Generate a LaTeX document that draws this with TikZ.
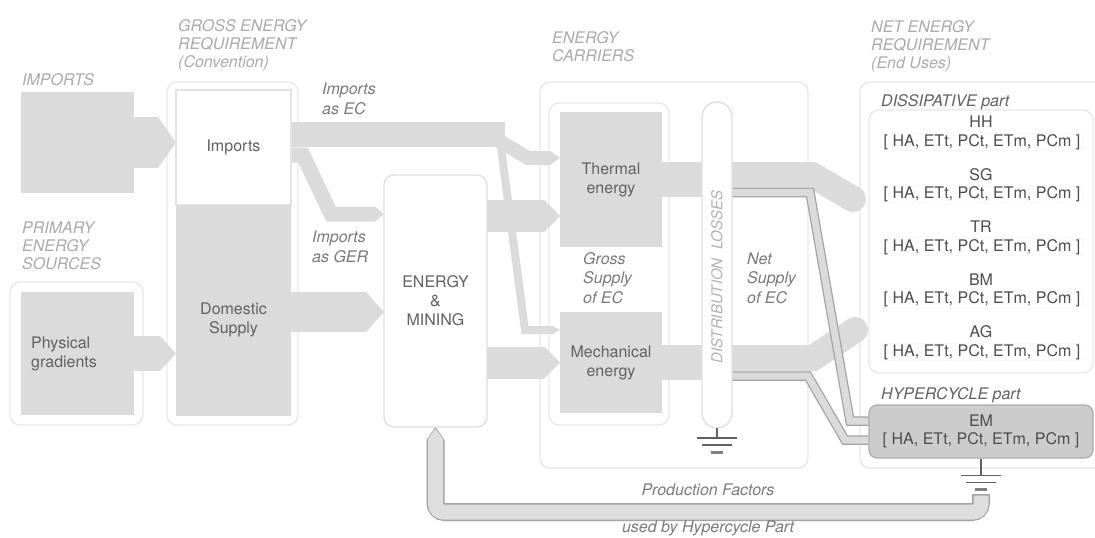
\documentclass[tikz,border=0pt]{standalone}
\usepackage{fontspec}
\setmainfont{TeX Gyre Heros}
\usetikzlibrary{arrows.meta}
\pgfdeclarelayer{back}
\pgfdeclarelayer{mid}
\pgfsetlayers{back,mid,main}
\begin{document}
\begin{tikzpicture}[x=1pt,y=-1pt,
 frame/.style={draw=black!9,line width=1.4pt,rounded corners=10pt,fill=white,inner sep=0pt,outer sep=0pt},
 greybox/.style={fill=black!14,inner sep=0pt,outer sep=0pt},
 boxtxt/.style={font=\fontsize{16}{19}\selectfont,text=black!62,align=center},
 head/.style={font=\fontsize{16}{18}\selectfont\itshape,text=black!33,align=left,anchor=west,inner sep=0pt},
 flowtxt/.style={font=\fontsize{16}{19.5}\selectfont\itshape,text=black!52,align=left,anchor=west,inner sep=0pt},
 parttxt/.style={font=\fontsize{16}{18}\selectfont\itshape,text=black!62,anchor=west,inner sep=0pt},
 enduse/.style={font=\fontsize{16}{18}\selectfont,text=black!70,inner sep=0pt},
 brack/.style={draw=black!22,densely dotted,rounded corners=4pt,minimum width=202pt,minimum height=17pt},
 band/.style={draw=black!14,line width=#1},
 tip/.style 2 args={-{Triangle[length=#1,width=#2,line width=0pt]}},
 thinband/.style={draw=black!14,line width=7pt,preaction={draw=black!36,line width=9.5pt}},
 earth/.style={draw=black!62,line width=1.6pt}]
\useasboundingbox (0,0) rectangle (1095,538);
\begin{pgfonlayer}{back}
 \fill[white] (0,0) rectangle (1095,538);
 \node[frame,minimum width=133pt,minimum height=143pt] (pes) at (76.5,353.5) {};
 \node[frame,minimum width=131pt,minimum height=343pt] (ger) at (232.5,253.5) {};
 \node[frame,minimum width=268pt,minimum height=386pt] (ec) at (674,275) {};
 \node[frame,minimum width=120pt,minimum height=322pt] (gross) at (609,264) {};
 \node[frame,minimum width=245pt,minimum height=386pt] (ner) at (982.5,275) {};
 \node[frame,minimum width=224pt,minimum height=263pt] (diss) at (981,241.5) {};
\end{pgfonlayer}
% headings
\node[head] (hImp) at (22,80) {IMPORTS};
\node[head] (hGer) at (178,45) {GROSS ENERGY\\REQUIREMENT\\(Convention)};
\node[head] (hPes) at (22,246) {PRIMARY\\ENERGY\\SOURCES};
\node[head] (hEc) at (552,47) {ENERGY\\CARRIERS};
\node[head] (hNer) at (871,46) {NET ENERGY\\REQUIREMENT\\(End Uses)};
% boxes
\node[greybox,minimum width=113pt,minimum height=101pt] (imp) at (77.5,142.5) {};
\node[greybox,minimum width=113pt,minimum height=123pt] (phys) at (77.5,353.5) {};
\node[boxtxt,align=left,anchor=west,inner sep=0pt] (physTxt) at ([xshift=10pt]phys.west) {Physical\\gradients};
\node[frame,boxtxt,draw=black!11,rounded corners=0pt,minimum width=115pt,minimum height=115pt] (gerimp) at (233.5,147.5) {Imports};
\node[greybox,minimum width=115pt,minimum height=211pt] (dom) at (233.5,310.5) {};
\node[boxtxt] (domTxt) at ([yshift=-9pt]dom.center) {Domestic\\Supply};
\node[frame,boxtxt,draw=black!12,minimum width=103pt,minimum height=252pt] (em) at (435.5,301) {ENERGY\\\&\\MINING};
\node[greybox,boxtxt,minimum width=102pt,minimum height=135pt] (therm) at (611,179.5) {Thermal\\energy};
\node[greybox,boxtxt,minimum width=102pt,minimum height=101pt] (mech) at (611,362.5) {Mechanical\\energy};
\node[frame,draw=black!12,rounded corners=15pt,minimum width=30pt,minimum height=326pt] (pill) at (717,265) {};
\node[font=\fontsize{15}{18}\selectfont\itshape,text=black!30,rotate=90] (lossTxt) at (717,277) {DISTRIBUTION\ \ LOSSES};
% flow labels
\node[flowtxt] (impEc) at (322,99) {Imports\\as EC};
\node[flowtxt] (impGer) at (312,247) {Imports\\as GER};
\node[flowtxt] (grossTxt) at (583,278) {Gross\\Supply\\of EC};
\node[flowtxt] (netTxt) at (747,278) {Net\\Supply\\of EC};
% end uses
\node[parttxt] (dissTxt) at (881,102) {DISSIPATIVE part};
\foreach \u [count=\i from 0] in {HH,SG,TR,BM,AG} {
 \node[enduse] (u\i) at (981,{122+52.5*\i}) {\u};
 \node[enduse,brack] (b\i) at (982,{142+52.5*\i}) {[ HA, ETt, PCt, ETm, PCm ]};
}
\node[parttxt] (hyperTxt) at (881,395) {HYPERCYCLE part};
\node[enduse,align=center,fill=black!20,draw=black!32,line width=1.2pt,rounded corners=8pt,minimum width=224pt,minimum height=53pt] (emb) at (981,431.5) {EM\\{}[ HA, ETt, PCt, ETm, PCm ]};
\node[flowtxt,anchor=center] (pfTxt) at (708,490) {Production Factors};
\node[flowtxt,anchor=center] (hcTxt) at (708,528) {used by Hypercycle Part};
% flows
\begin{pgfonlayer}{mid}
 \draw[band=51pt,tip={18pt}{51pt}] (imp.east) -- (gerimp.west |- imp.east);
 \draw[band=35pt,tip={16pt}{35pt}] (phys.east) -- (dom.west |- phys.east);
 \draw[band=40pt,tip={18pt}{40pt}] (dom.east |- 0,312) -- (em.west |- 0,312);
 \draw[band=25pt] (gerimp.east |- 0,134.5) -- (505,134.5);
 \draw[band=14pt,tip={10pt}{14pt}] (496,139) -- (528,158) -- (therm.west |- 0,158);
 \draw[band=15pt,tip={9pt}{15pt}] (gerimp.east |- 0,155) -- (303,155) -- (331,214) -- (em.west |- 0,214);
 \draw[band=8pt,tip={7pt}{8pt}] (500,140) -- (525,330) -- (mech.west |- 0,330);
 \draw[band=32pt,tip={16pt}{32pt}] (em.east |- 0,216) -- (therm.west |- 0,216);
 \draw[band=32pt,tip={16pt}{32pt}] (em.east |- mech.west) -- (mech.west);
 \draw[band=35pt] (therm.east) -- (pill.center |- therm.east);
 \draw[band=35pt] (mech.east) -- (pill.center |- mech.east);
 \draw[band=26pt,line cap=round] (pill.center |- 0,175) -- (812,175) -- (853,199);
 \draw[band=26pt,line cap=round] (pill.center |- 0,358) -- (813,358) -- (855,330);
 \draw[thinband] (pill.center |- 0,192.5) -- (810,192.5) -- (850,421) -- (emb.west |- 0,421);
 \draw[thinband] (pill.center |- 0,376) -- (808,376) -- (845,440) -- (emb.west |- 0,440);
 \draw[black!36,line width=18pt,rounded corners=9pt,tip={13pt}{18pt}] (emb.south |- 0,494) -- (emb.south |- 0,512) -- (em.south |- 0,512) -- (em.south);
 \draw[black!13,line width=15pt,rounded corners=8pt,shorten <=1.5pt,shorten >=1.5pt,tip={10.5pt}{15pt}] (emb.south |- 0,494) -- (emb.south |- 0,512) -- (em.south |- 0,512) -- (em.south);
\end{pgfonlayer}
% earth
\foreach \g/\s in {pill/10,emb/17} {
 \draw[earth] (\g.south) -- ++(0,\s) coordinate (\g gnd);
 \draw[earth] ([xshift=-20pt]\g gnd) -- ([xshift=20pt]\g gnd);
 \draw[earth] ([xshift=-15pt,yshift=-7pt]\g gnd) -- ([xshift=15pt,yshift=-7pt]\g gnd);
 \draw[earth,line width=3pt,draw=black!50] ([xshift=-6pt,yshift=-14pt]\g gnd) -- ([xshift=6pt,yshift=-14pt]\g gnd);
}
\end{tikzpicture}
\end{document}
